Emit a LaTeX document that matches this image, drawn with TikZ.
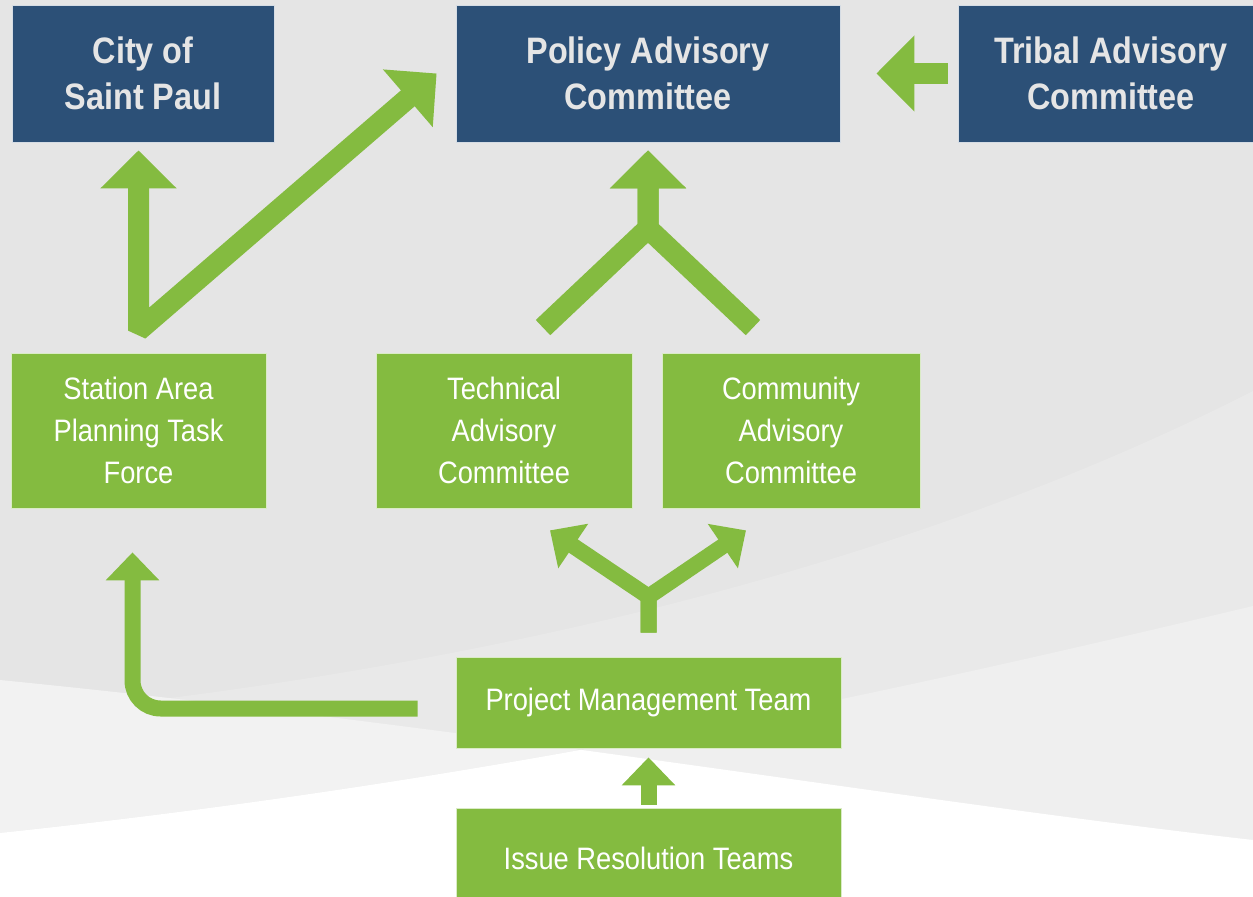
\documentclass[tikz,border=0pt]{standalone}
\usepackage{fontspec}
\setmainfont[FakeStretch=0.88]{Liberation Sans}
\usetikzlibrary{arrows.meta,calc,positioning}
\definecolor{navy}{RGB}{44,80,119}
\definecolor{leaf}{RGB}{132,187,64}
\definecolor{bggray}{RGB}{229,229,229}

\begin{document}
\begin{tikzpicture}[x=0.5pt, y=-0.5pt,
  bluebox/.style={fill=navy, draw=white!80!navy, line width=0.4pt, text=white!90!black, align=center, inner sep=0pt, minimum height=68.5pt, font=\bfseries\fontsize{18.4}{23}\selectfont},
  greenbox/.style={fill=leaf, draw=white!70!leaf, line width=0.4pt, text=white, align=center, inner sep=0pt, font=\fontsize{15.5}{21}\selectfont},
  fatline/.style={draw=leaf, line width=10.5pt, line join=miter},
  thinline/.style={draw=leaf, line width=8pt, line join=miter},
  bigtip/.style={-{Triangle[width=37pt,length=19pt]}},
  smalltip/.style={-{Triangle[width=26pt,length=14pt]}}]
\useasboundingbox (0,0) rectangle (1253,897);
\clip (0,0) rectangle (1253,897);
% background swooshes
\fill[bggray] (0,0) rectangle (1253,897);
\fill[white!15!bggray] (0,717) .. controls (600,660) and (1000,520) .. (1253,391) -- (1253,897) -- (0,897) -- cycle;
\fill[white!50!bggray] (0,680) .. controls (500,730) and (900,800) .. (1253,840) -- (1253,897) -- (0,897) -- cycle;
\fill[white!40!bggray] (0,833) .. controls (500,780) and (900,690) .. (1253,606) -- (1253,897) -- (0,897) -- cycle;
\begin{scope}
\clip (0,680) .. controls (500,730) and (900,800) .. (1253,840) -- (1253,897) -- (0,897) -- cycle;
\fill[white] (0,833) .. controls (500,780) and (900,690) .. (1253,606) -- (1253,897) -- (0,897) -- cycle;
\end{scope}

% top row
\node[bluebox, minimum width=131pt] (city) at (143,73.5) {City of\\Saint Paul};
\node[bluebox, minimum width=192pt] (pac) at (648,73.5) {Policy Advisory\\Committee};
\node[bluebox, minimum width=153pt] (tribal) at (1111,73.5) {Tribal Advisory\\Committee};
% middle row
\node[greenbox, minimum width=127.5pt, minimum height=77.5pt] (sap) at (138.5,430.5) {Station Area\\Planning Task\\Force};
\node[greenbox, minimum width=128pt, minimum height=77.5pt] (tac) at (504,430.5) {Technical\\Advisory\\Committee};
\node[greenbox, minimum width=129pt, minimum height=77.5pt] (cac) at (791,430.5) {Community\\Advisory\\Committee};
% bottom
\node[greenbox, minimum width=192.5pt, minimum height=45.5pt] (pmt) at (648.5,702.5) {Project Management Team};
\node[greenbox, minimum width=192.5pt, minimum height=50pt] (irt) at (648.5,858) {Issue Resolution Teams};

% arrows
\coordinate (sapfork) at ($(sap.north)+(0,-22)$);
\draw[fatline, line join=bevel, {Triangle[width=37pt,length=19pt]}-{Triangle[width=37pt,length=19pt]}] ($(sapfork |- city.south)+(0,8)$) -- (sapfork) -- ($(pac.west)+(-19,0)$);
\draw[fatline, bigtip] ($(tribal.west)+(-10,0)$) -- ($(pac.east)+(36,0)$);
\coordinate (pacjoin) at ($(pac.south)+(0,86)$);
\coordinate (pactip) at ($(pac.south)+(0,8)$);
\draw[fatline, bigtip] ($(tac.north)+(39,-25)$) -- (pacjoin) -- (pactip);
\draw[fatline, bigtip] ($(cac.north)+(-38,-25)$) -- (pacjoin) -- (pactip);
\coordinate (pmtjoin) at ($(pmt.north)+(0,-60)$);
\draw[thinline, smalltip] ($(pmt.north)+(0,-24)$) -- (pmtjoin) -- ($(tac.south)+(46,22)$);
\draw[thinline, smalltip] ($(pmt.north)+(0,-24)$) -- (pmtjoin) -- ($(cac.south)+(-45,22)$);
\draw[thinline, smalltip, rounded corners=14pt] ($(pmt.west)+(-38,6)$) -| ($(sap.south)+(-6,44)$);
\draw[thinline, smalltip] ($(irt.north)+(0,-3)$) -- ($(pmt.south)+(0,9)$);
\end{tikzpicture}
\end{document}
